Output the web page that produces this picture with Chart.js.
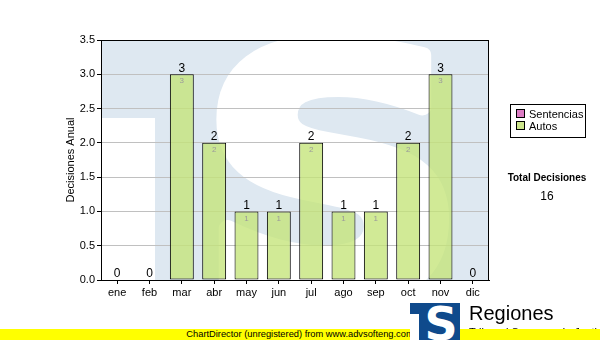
<!DOCTYPE html>
<html>
<head>
<meta charset="utf-8">
<script src="https://cdn.jsdelivr.net/npm/chart.js@4"></script>
<style>
  body { margin: 0; background: #fff; }
  #wrap { position: relative; width: 600px; height: 340px; overflow: hidden; font-family: "Liberation Sans", Arial, sans-serif; }
  #chart { position: absolute; left: 0; top: 0; }
  #legend { position: absolute; left: 510px; top: 104px; width: 74px; height: 32px; border: 1px solid #000; font-size: 11px; }
  #legend div { position: absolute; left: 5px; height: 12px; line-height: 12px; white-space: nowrap; }
  #legend span { display: inline-block; width: 7px; height: 7px; border: 1px solid #000; margin-right: 4px; vertical-align: 0px; }
  #total { position: absolute; left: 497px; top: 172px; width: 100px; text-align: center; font-size: 10px; font-weight: bold; }
  #totalVal { position: absolute; left: 497px; top: 189px; width: 100px; text-align: center; font-size: 12px; }
  #logo { position: absolute; left: 410px; top: 303px; }
  #regiones { position: absolute; left: 469px; top: 302px; font-size: 20px; }
  #sub { position: absolute; left: 469px; top: 326px; font-size: 11px; white-space: nowrap; }
  #footer { position: absolute; left: 0; top: 329px; width: 600px; height: 11px; background: #ffff00; font-size: 9.3px; line-height: 11px; text-align: center; }
</style>
</head>
<body>
<div id="wrap">
  <canvas id="chart" width="600" height="340"></canvas>
  <div id="legend"></div>
  <div id="total">Total Decisiones</div>
  <div id="totalVal"></div>
  <div id="sub">Tribunal Supremo de Justicia</div>
  <div id="footer">ChartDirector (unregistered) from www.advsofteng.com</div>
  <svg id="logo" width="50" height="37" viewBox="0 0 50 37">
    <rect x="0" y="0" width="50" height="37" fill="#0f4a8c"/>
    <rect x="0" y="11" width="9" height="26" fill="#fff"/>
    <text x="31" y="37" font-family="DejaVu Sans" font-weight="bold" font-size="46" fill="#fff" text-anchor="middle">S</text>
  </svg>
  <div id="regiones">Regiones</div>
</div>
<script>
// datos del grafico
const meses = ['ene', 'feb', 'mar', 'abr', 'may', 'jun', 'jul', 'ago', 'sep', 'oct', 'nov', 'dic'];
const sentencias = [0, 0, 0, 0, 0, 0, 0, 0, 0, 0, 0, 0];
const autos = [0, 0, 3, 2, 1, 1, 2, 1, 1, 2, 3, 0];
const seriesNames = ['Sentencias', 'Autos'];
const seriesColors = ['#dc7cc4', '#cde68c'];
const yMax = 3.5;
const yStep = 0.5;

// leyenda y total
const legend = document.getElementById('legend');
seriesNames.forEach((name, i) => {
  const d = document.createElement('div');
  d.style.top = (3 + i * 12) + 'px';
  d.innerHTML = `<span style="background:${seriesColors[i]}"></span>${name}`;
  legend.appendChild(d);
});
const total = autos.reduce((a, b) => a + b, 0) + sentencias.reduce((a, b) => a + b, 0);
document.getElementById('totalVal').innerText = total;

// marca de agua del fondo (logo TS)
const watermark = {
  id: 'watermark',
  beforeDraw(chart) {
    const { ctx, chartArea: a } = chart;
    ctx.save();
    ctx.beginPath();
    ctx.rect(a.left, a.top, a.right - a.left, a.bottom - a.top);
    ctx.clip();
    ctx.fillStyle = '#dee8f1';
    ctx.fillRect(a.left, a.top, a.right - a.left, a.bottom - a.top);
    ctx.fillStyle = '#fff';
    ctx.fillRect(a.left, a.top + 78, 54, a.bottom - a.top - 78);
    ctx.translate(a.left + 232, a.top + 255);
    ctx.scale(1.1, 1);
    ctx.font = 'bold 340px "DejaVu Sans"';
    ctx.textAlign = 'center';
    ctx.textBaseline = 'alphabetic';
    ctx.strokeStyle = '#fff';
    ctx.lineWidth = 16;
    ctx.lineJoin = 'round';
    ctx.fillText('S', 0, 0);
    ctx.strokeText('S', 0, 0);
    ctx.restore();
  }
};

// borde del area y etiquetas de valores
const extras = {
  id: 'extras',
  afterDatasetsDraw(chart) {
    const { ctx, chartArea: a, scales } = chart;
    ctx.save();
    ctx.strokeStyle = '#000';
    ctx.lineWidth = 1;
    ctx.strokeRect(a.left + 0.5, a.top + 0.5, a.right - a.left - 1, a.bottom - a.top);
    ctx.textAlign = 'center';
    meses.forEach((m, i) => {
      const x = scales.x.getPixelForValue(i);
      const v = sentencias[i] + autos[i];
      const yTop = scales.y.getPixelForValue(v);
      ctx.fillStyle = '#000';
      ctx.font = '12px "Liberation Sans"';
      ctx.textBaseline = 'bottom';
      ctx.fillText(String(v), x, yTop);
      if (autos[i] > 0) {
        ctx.fillStyle = '#9a9a9a';
        ctx.font = '8px "Liberation Sans"';
        ctx.textBaseline = 'top';
        ctx.fillText(String(autos[i]), x, yTop + 3);
      }
    });
    ctx.restore();
  }
};

new Chart(document.getElementById('chart'), {
  type: 'bar',
  data: {
    labels: meses,
    datasets: [
      {
        label: seriesNames[0],
        data: sentencias,
        backgroundColor: seriesColors[0],
        borderWidth: 0,
      },
      {
        label: seriesNames[1],
        data: autos,
        backgroundColor: 'rgba(196, 228, 120, 0.78)',
        borderColor: '#000',
        borderWidth: 1,
        borderSkipped: false,
      },
    ],
  },
  options: {
    responsive: false,
    animation: false,
    layout: { padding: { left: 60, right: 111, top: 40, bottom: 38 } },
    categoryPercentage: 1,
    barPercentage: 0.74,
    plugins: { legend: { display: false }, tooltip: { enabled: false } },
    scales: {
      x: {
        stacked: true,
        afterFit: (s) => { s.height = 22; },
        grid: { drawOnChartArea: false, offset: false, tickLength: 4, tickColor: '#000' },
        border: { color: '#000' },
        ticks: { color: '#000', font: { family: 'Liberation Sans', size: 11 }, padding: 2 },
      },
      y: {
        stacked: true,
        min: 0,
        max: yMax,
        afterFit: (s) => { s.width = 41; },
        title: { display: true, text: 'Decisiones Anual', color: '#000', font: { family: 'Liberation Sans', size: 11 }, padding: { top: 4, bottom: 0 } },
        grid: { color: '#c0c0c0', tickLength: 4, tickColor: '#000' },
        border: { color: '#000' },
        ticks: { stepSize: yStep, color: '#000', font: { family: 'Liberation Sans', size: 11 }, padding: 2, callback: (v) => v.toFixed(1) },
      },
    },
  },
  plugins: [watermark, extras],
});
</script>
</body>
</html>
